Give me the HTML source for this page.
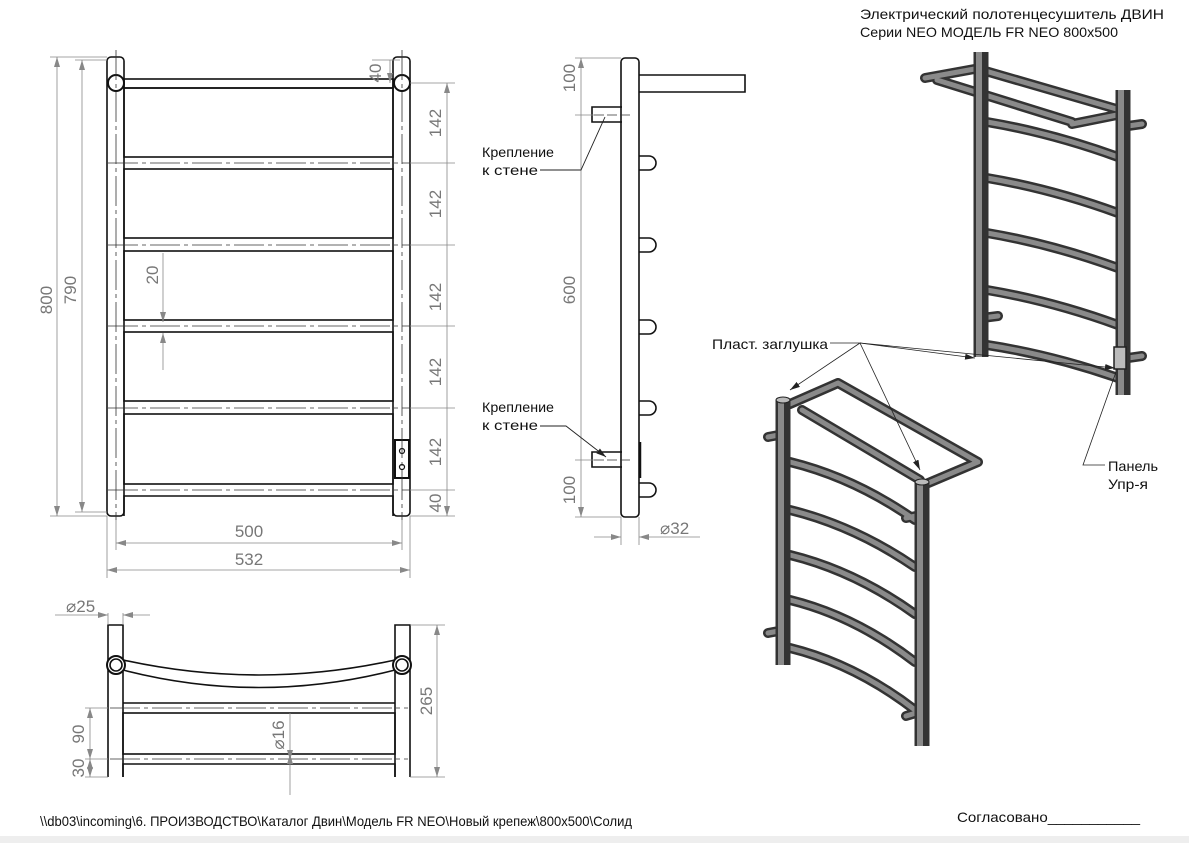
<!DOCTYPE html>
<html><head><meta charset="utf-8"><style>
html,body{margin:0;padding:0;background:#fff}
svg{display:block}
text{font-family:"Liberation Sans","Noto Sans CJK SC",sans-serif}
.d{fill:#777;font-size:17px}
.t{fill:#111;font-size:14px}
</style></head><body>
<svg width="1189" height="843" viewBox="0 0 1189 843" xmlns="http://www.w3.org/2000/svg">
<defs>
<marker id="a" viewBox="0 0 10 6" refX="10" refY="3" markerWidth="10" markerHeight="6" orient="auto-start-reverse" markerUnits="userSpaceOnUse"><path d="M0,0 L10,3 L0,6 Z" fill="#888"/></marker>
<marker id="b" viewBox="0 0 10 6" refX="10" refY="3" markerWidth="10" markerHeight="6" orient="auto" markerUnits="userSpaceOnUse"><path d="M0,0 L10,3 L0,6 Z" fill="#222"/></marker>
</defs>
<rect x="0" y="836" width="1189" height="7" fill="#eee"/>

<!-- FRONT VIEW -->
<g fill="none" stroke="#111" stroke-width="1.6">
<rect x="107" y="57" width="17" height="459" rx="4"/>
<rect x="393" y="57" width="17" height="459" rx="4"/>
<rect x="124" y="79" width="269" height="9"/>
<rect x="124" y="88" width="269" height="69"/>
<rect x="124" y="169" width="269" height="69"/>
<rect x="124" y="251" width="269" height="69"/>
<rect x="124" y="332" width="269" height="69"/>
<rect x="124" y="414" width="269" height="70"/>
<path d="M124,516 V496 H393 V516"/>
<circle cx="116" cy="83" r="8" stroke-width="2"/>
<circle cx="402" cy="83" r="8" stroke-width="2"/>
<rect x="395" y="440" width="14" height="38" stroke-width="2"/>
<circle cx="402" cy="451" r="2.5" stroke-width="1.2"/>
<circle cx="402" cy="467" r="2.5" stroke-width="1.2"/>
</g>
<g stroke="#333" stroke-width="0.8" stroke-dasharray="30 4 4 4" fill="none">
<path d="M116,50 V520 M402,50 V520"/>
<path d="M108,163 H410 M108,245 H410 M108,326 H410 M108,408 H410 M108,490 H410"/>
</g>
<g stroke="#888" stroke-width="0.8" fill="none">
<path d="M50,57 H107 M75,60 H107 M50,516 H107 M75,512 H107"/>
<path d="M57,57 V516" marker-start="url(#a)" marker-end="url(#a)"/>
<path d="M82,60 V512" marker-start="url(#a)" marker-end="url(#a)"/>
<path d="M410,83 H455 M410,163 H455 M410,245 H455 M410,326 H455 M410,408 H455 M410,490 H455 M410,516 H455"/>
<path d="M447,83 V163 M447,163 V245 M447,245 V326 M447,326 V408 M447,408 V490 M447,490 V516" marker-start="url(#a)" marker-end="url(#a)"/>
<path d="M390,60 V83" marker-end="url(#a)"/><path d="M372,60 H400"/>
<path d="M163,253 V322" marker-end="url(#a)"/><path d="M163,370 V333" marker-end="url(#a)"/>
<path d="M107,516 V578 M410,516 V578 M116,520 V550 M402,520 V550"/>
<path d="M116,543 H402" marker-start="url(#a)" marker-end="url(#a)"/>
<path d="M107,570 H410" marker-start="url(#a)" marker-end="url(#a)"/>
</g>
<g class="d">
<text transform="translate(52,300) rotate(-90)" text-anchor="middle">800</text>
<text transform="translate(76,290) rotate(-90)" text-anchor="middle">790</text>
<text transform="translate(441,123) rotate(-90)" text-anchor="middle">142</text>
<text transform="translate(441,204) rotate(-90)" text-anchor="middle">142</text>
<text transform="translate(441,297) rotate(-90)" text-anchor="middle">142</text>
<text transform="translate(441,372) rotate(-90)" text-anchor="middle">142</text>
<text transform="translate(441,452) rotate(-90)" text-anchor="middle">142</text>
<text transform="translate(441,503) rotate(-90)" text-anchor="middle">40</text>
<text transform="translate(381,73) rotate(-90)" text-anchor="middle">40</text>
<text transform="translate(158,275) rotate(-90)" text-anchor="middle">20</text>
<text x="249" y="537" text-anchor="middle">500</text>
<text x="249" y="565" text-anchor="middle">532</text>
</g>

<!-- SIDE VIEW -->
<g fill="none" stroke="#111" stroke-width="1.6">
<rect x="621" y="58" width="18" height="459" rx="4"/>
<path d="M639,75 H745 V92 H639"/>
<path d="M622,107 H592 V122 H622"/>
<path d="M622,452 H592 V467 H622"/>
<path d="M639,156 h10 a7,7 0 0 1 0,14 h-10 M639,238 h10 a7,7 0 0 1 0,14 h-10 M639,320 h10 a7,7 0 0 1 0,14 h-10 M639,401 h10 a7,7 0 0 1 0,14 h-10 M639,483 h10 a7,7 0 0 1 0,14 h-10"/>
<path d="M640,442 V478" stroke-width="2.5"/>
</g>
<g stroke="#333" stroke-width="0.8" stroke-dasharray="10 3" fill="none">
<path d="M594,115 H632 M594,460 H632"/>
</g>
<g stroke="#888" stroke-width="0.8" fill="none">
<path d="M575,58 H621 M575,115 H594 M575,460 H594 M575,517 H621"/>
<path d="M581,58 V115 M581,115 V460 M581,460 V517" marker-start="url(#a)" marker-end="url(#a)"/>
<path d="M621,517 V545 M639,517 V545"/>
<path d="M594,537 H621" marker-end="url(#a)"/><path d="M700,537 H639" marker-end="url(#a)"/>
</g>
<g stroke="#222" stroke-width="0.9" fill="none">
<path d="M540,170 H581 L605,117"/>
<path d="M540,426 H566 L606,457" marker-end="url(#b)"/>
</g>
<g class="d">
<text transform="translate(575,78) rotate(-90)" text-anchor="middle">100</text>
<text transform="translate(575,290) rotate(-90)" text-anchor="middle">600</text>
<text transform="translate(575,490) rotate(-90)" text-anchor="middle">100</text>
<text x="660" y="534">⌀32</text>
</g>
<g class="t" font-size="15">
<text x="482" y="157" textLength="72" lengthAdjust="spacingAndGlyphs">Крепление</text>
<text x="482" y="175" textLength="56" lengthAdjust="spacingAndGlyphs">к стене</text>
<text x="482" y="412" textLength="72" lengthAdjust="spacingAndGlyphs">Крепление</text>
<text x="482" y="430" textLength="56" lengthAdjust="spacingAndGlyphs">к стене</text>
</g>

<!-- BOTTOM VIEW -->
<g fill="none" stroke="#111" stroke-width="1.6">
<path d="M108,777 V625 H123 V777 M395,777 V625 H410 V777"/>
<path d="M123,660 Q259,690 395,660 M123,670 Q259,705 395,670"/>
<circle cx="116" cy="665" r="9" fill="#fff" stroke-width="2"/><circle cx="116" cy="665" r="6"/>
<circle cx="402" cy="665" r="9" fill="#fff" stroke-width="2"/><circle cx="402" cy="665" r="6"/>
<path d="M123,703 H395"/>
<rect x="123" y="713" width="272" height="41"/>
<path d="M123,777 V764 H395 V777"/>
</g>
<g stroke="#333" stroke-width="0.8" stroke-dasharray="30 4 4 4" fill="none">
<path d="M110,708 H408 M110,759 H408"/>
</g>
<g stroke="#888" stroke-width="0.8" fill="none">
<path d="M55,615 H108" marker-end="url(#a)"/><path d="M150,615 H123" marker-end="url(#a)"/>
<path d="M108,613 V625 M123,613 V625"/>
<path d="M410,625 H445 M410,777 H445"/>
<path d="M437,625 V777" marker-start="url(#a)" marker-end="url(#a)"/>
<path d="M85,708 H108 M85,759 H108 M85,777 H108"/>
<path d="M90,708 V759" marker-start="url(#a)" marker-end="url(#a)"/>
<path d="M90,759 V777" marker-start="url(#a)" marker-end="url(#a)"/>
<path d="M290,713 V760" marker-end="url(#a)"/><path d="M290,795 V754" marker-end="url(#a)"/>
</g>
<g class="d">
<text x="66" y="612">⌀25</text>
<text transform="translate(432,701) rotate(-90)" text-anchor="middle">265</text>
<text transform="translate(84,734) rotate(-90)" text-anchor="middle">90</text>
<text transform="translate(84,768) rotate(-90)" text-anchor="middle">30</text>
<text transform="translate(284,735) rotate(-90)" text-anchor="middle">⌀16</text>
</g>

<!-- 3D TOP-RIGHT -->
<g fill="none" stroke-linecap="round" stroke="#333" stroke-width="10">
<path d="M925,78 L980,68 M937,80 L1072,122 M982,70 L1120,110 M1072,124 L1122,114"/>
<path d="M987,122 Q1052,133 1118,157 M987,178 Q1052,189 1118,213 M987,233 Q1052,244 1118,268 M987,290 Q1052,301 1118,325 M987,345 Q1052,355 1118,378"/>
<path d="M1128,126 L1142,124 M1128,358 L1142,356 M982,318 L998,316"/>
</g>
<g fill="none" stroke-linecap="round" stroke="#8a8a8a" stroke-width="5">
<path d="M925,78 L980,68 M937,80 L1072,122 M982,70 L1120,110 M1072,124 L1122,114"/>
<path d="M987,122 Q1052,133 1118,157 M987,178 Q1052,189 1118,213 M987,233 Q1052,244 1118,268 M987,290 Q1052,301 1118,325 M987,345 Q1052,355 1118,378"/>
<path d="M1128,126 L1142,124 M1128,358 L1142,356 M982,318 L998,316"/>
</g>
<path d="M981,52 V357" stroke="#333" stroke-width="15"/>
<path d="M979,52 V357" stroke="#8a8a8a" stroke-width="6"/>
<path d="M1123,90 V395" stroke="#333" stroke-width="15"/>
<path d="M1121,90 V395" stroke="#8a8a8a" stroke-width="6"/>
<rect x="1114" y="347" width="12" height="22" fill="#bbb" stroke="#222" stroke-width="1.5"/>

<!-- 3D BOTTOM-LEFT -->
<g fill="none" stroke-linecap="round" stroke="#333" stroke-width="10">
<path d="M790,404 L838,383 M838,383 L978,462 M802,410 L920,480 M926,484 L978,462"/>
<path d="M790,462 Q855,478 915,520 M790,510 Q855,526 915,567 M790,555 Q855,571 915,614 M790,600 Q855,616 915,662 M790,648 Q855,664 915,710"/>
<path d="M768,437 L784,434 M768,633 L784,630 M906,518 L916,516 M906,716 L916,713"/>
</g>
<g fill="none" stroke-linecap="round" stroke="#8a8a8a" stroke-width="5">
<path d="M790,404 L838,383 M838,383 L978,462 M802,410 L920,480 M926,484 L978,462"/>
<path d="M790,462 Q855,478 915,520 M790,510 Q855,526 915,567 M790,555 Q855,571 915,614 M790,600 Q855,616 915,662 M790,648 Q855,664 915,710"/>
<path d="M768,437 L784,434 M768,633 L784,630 M906,518 L916,516 M906,716 L916,713"/>
</g>
<path d="M783,400 V665" stroke="#333" stroke-width="15"/>
<path d="M781,400 V665" stroke="#8a8a8a" stroke-width="6"/>
<path d="M922,482 V746" stroke="#333" stroke-width="15"/>
<path d="M920,482 V746" stroke="#8a8a8a" stroke-width="6"/>
<ellipse cx="783" cy="400" rx="7" ry="3" fill="#bbb" stroke="#222"/>
<ellipse cx="922" cy="482" rx="7" ry="3" fill="#bbb" stroke="#222"/>

<!-- labels 3D -->
<g stroke="#222" stroke-width="0.8" fill="none">
<path d="M830,343 H860 L790,390" marker-end="url(#b)"/>
<path d="M860,343 L920,470" marker-end="url(#b)"/>
<path d="M860,343 L975,358" marker-end="url(#b)"/>
<path d="M860,343 L1115,368" marker-end="url(#b)"/>
<path d="M1105,465 H1083 L1116,372"/>
</g>
<g class="t" font-size="15">
<text x="712" y="349" textLength="116" lengthAdjust="spacingAndGlyphs">Пласт. заглушка</text>
<text x="1108" y="471" textLength="50" lengthAdjust="spacingAndGlyphs">Панель</text>
<text x="1108" y="489" textLength="40" lengthAdjust="spacingAndGlyphs">Упр-я</text>
<text x="860" y="19" textLength="304" lengthAdjust="spacingAndGlyphs">Электрический полотенцесушитель ДВИН</text>
<text x="860" y="37" textLength="258" lengthAdjust="spacingAndGlyphs">Серии NEO МОДЕЛЬ FR NEO 800x500</text>
<text x="40" y="826" textLength="592" lengthAdjust="spacingAndGlyphs">\\db03\incoming\6. ПРОИЗВОДСТВО\Каталог Двин\Модель FR NEO\Новый крепеж\800x500\Солид</text>
<text x="957" y="822" textLength="183" lengthAdjust="spacingAndGlyphs">Согласовано___________</text>
</g>
</svg>
</body></html>
